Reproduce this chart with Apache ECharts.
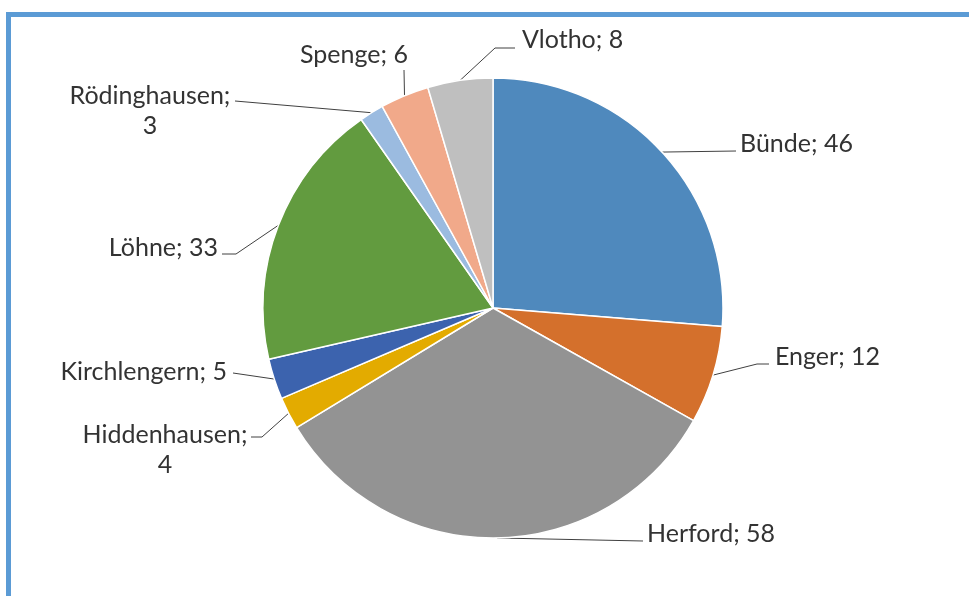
<!DOCTYPE html>
<html>
<head>
<meta charset="utf-8">
<script src="https://cdn.jsdelivr.net/npm/echarts@6/dist/echarts.min.js"></script>
<style>
  html, body { margin: 0; padding: 0; background: #fff; }
  #wrap { position: relative; width: 969px; height: 596px; overflow: hidden; }
  #frame { position: absolute; left: 6px; top: 12px; right: -10px; bottom: -10px;
           border-top: 5px solid #5B9BD5; border-left: 5px solid #5B9BD5; }
  #main { position: absolute; left: 0; top: 0; width: 969px; height: 596px; }
</style>
</head>
<body>
<div id="wrap">
  <div id="frame"></div>
  <div id="main"></div>
</div>
<script>
// Gemeinden und Werte
var towns = ['Bünde', 'Enger', 'Herford', 'Hiddenhausen', 'Kirchlengern', 'Löhne', 'Rödinghausen', 'Spenge', 'Vlotho'];
var counts = [46, 12, 58, 4, 5, 33, 3, 6, 8];
var colors = ['#4F89BD', '#D4702C', '#939393', '#E3AB00', '#3C63AE', '#629B3F', '#9BBBE0', '#F1A98A', '#BFBFBF'];
var wrapped = ['Hiddenhausen', 'Rödinghausen'];

// Position der Beschriftungen (wie im Original frei verschoben)
var labelSpots = [
    { x: 740, y: 144, align: 'left',   pts: [[736, 151]] },
    { x: 775, y: 357, align: 'left',   pts: [[757, 364], [769, 364]] },
    { x: 647, y: 534, align: 'left',   pts: [[643, 541]] },
    { x: 165, y: 450, align: 'center', pts: [[262, 437], [251, 437]] },
    { x: 227, y: 372, align: 'right',  pts: [[233, 373]] },
    { x: 218, y: 248, align: 'right',  pts: [[236, 254], [222, 254]] },
    { x: 150, y: 111, align: 'center', pts: [[235, 101]] },
    { x: 354, y: 55,  align: 'center', pts: [[404, 70]] },
    { x: 522, y: 40,  align: 'left',   pts: [[495, 48], [515, 48]] }
];

var myChart = echarts.init(document.getElementById('main'));

var pieData = towns.map(function (t, i) {
    return { name: t, value: counts[i], itemStyle: { color: colors[i] } };
});

var option = {
    animation: false,
    series: [{
        type: 'pie',
        center: [493, 308],
        radius: 230,
        startAngle: 90,
        clockwise: true,
        data: pieData,
        itemStyle: { borderColor: '#fff', borderWidth: 1.5 },
        label: {
            show: true,
            fontFamily: 'Lato',
            fontSize: 25,
            lineHeight: 30,
            color: '#333',
            formatter: function (p) {
                if (wrapped.indexOf(p.name) >= 0) return p.name + ';\n' + p.value;
                return p.name + '; ' + p.value;
            }
        },
        labelLine: {
            show: true,
            length: 20,
            length2: 20,
            lineStyle: { color: '#404040', width: 1 }
        },
        labelLayout: function (params) {
            var s = labelSpots[params.dataIndex];
            var start = params.labelLinePoints ? params.labelLinePoints[0] : s.pts[0];
            return {
                x: s.x,
                y: s.y,
                align: s.align,
                verticalAlign: 'middle',
                labelLinePoints: [start].concat(s.pts)
            };
        }
    }]
};

myChart.setOption(option);
window.addEventListener("resize", function () {
    myChart.resize();
});
</script>
</body>
</html>
